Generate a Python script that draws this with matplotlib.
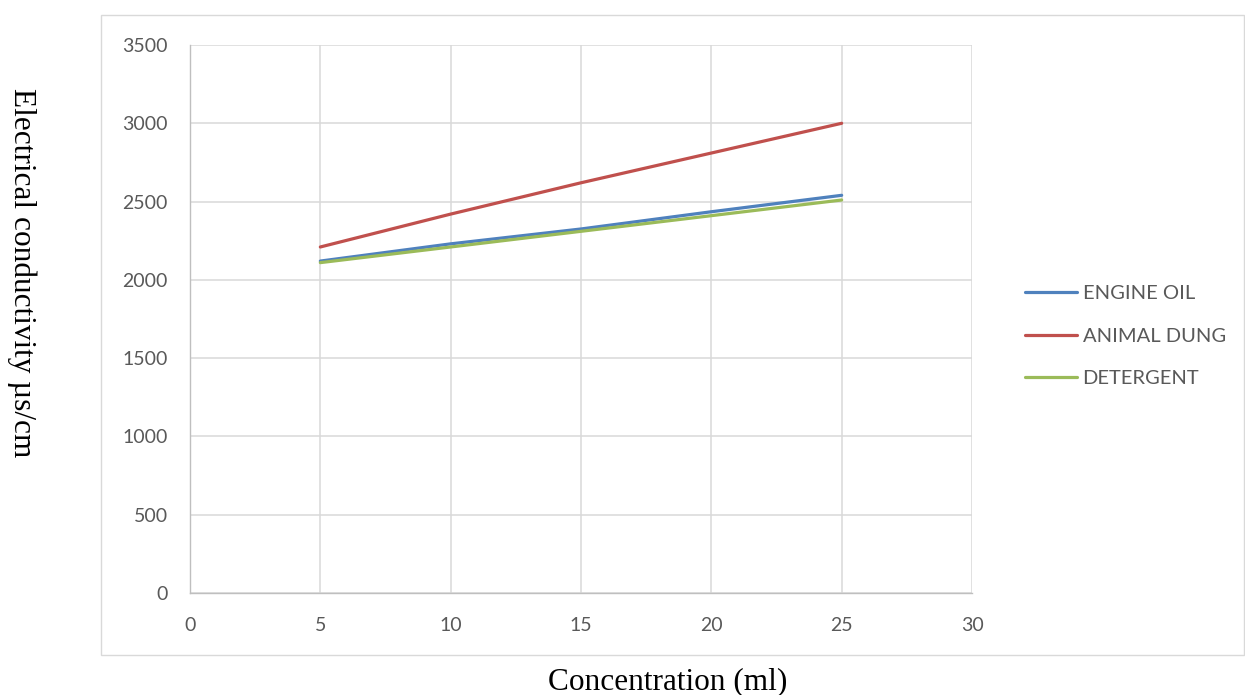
import matplotlib
matplotlib.use('Agg')
import matplotlib.pyplot as plt
from matplotlib.patches import Rectangle

# data
concentration = [5, 10, 15, 20, 25]
engine_oil = [2120, 2230, 2325, 2435, 2540]
animal_dung = [2210, 2420, 2620, 2810, 3000]
detergent = [2110, 2210, 2310, 2410, 2510]

series = [
    ('ENGINE OIL', engine_oil, '#4F81BD'),
    ('ANIMAL DUNG', animal_dung, '#C0504D'),
    ('DETERGENT', detergent, '#9BBB59'),
]

W, H = 1245, 695
fig = plt.figure(figsize=(W / 100, H / 100), dpi=100)

# chart-area border
fig.patches.append(Rectangle((101 / W, 1 - 655 / H), (1244 - 101) / W, (655 - 15) / H,
                             transform=fig.transFigure, fill=False,
                             edgecolor='#d9d9d9', linewidth=1.0))

ax = fig.add_axes([190 / W, 1 - 593 / H, (972 - 190) / W, (593 - 45) / H])

for name, vals, col in series:
    ax.plot(concentration, vals, color=col, linewidth=2.3, label=name,
            solid_capstyle='round')

ax.set_xlim(0, 30)
ax.set_ylim(0, 3500)
ax.set_xticks(range(0, 31, 5))
ax.set_yticks(range(0, 3501, 500))
ax.grid(True, color='#d9d9d9', linewidth=1.1)
ax.set_axisbelow(True)
for s in ['top', 'right']:
    ax.spines[s].set_visible(False)
for s in ['left', 'bottom']:
    ax.spines[s].set_color('#bfbfbf')
    ax.spines[s].set_linewidth(1.0)
ax.tick_params(length=0, labelsize=14, labelcolor='#595959')
ax.tick_params(axis='x', pad=17)
ax.tick_params(axis='y', pad=16)
for lab in ax.get_xticklabels() + ax.get_yticklabels():
    lab.set_fontfamily('Lato')

fig.text(22 / W, 1 - 273 / H, 'Electrical conductivity µs/cm', rotation=270,
         ha='center', va='center', fontsize=22.5, family='Liberation Serif')
fig.text(668 / W, 1 - 682 / H, 'Concentration (ml)', ha='center', va='center',
         fontsize=22.5, family='Liberation Serif')

leg = ax.legend(loc='center left', bbox_to_anchor=(1007 / W, 1 - 336 / H),
                bbox_transform=fig.transFigure, frameon=False,
                prop={'family': 'Lato', 'size': 14.5}, handlelength=2.6,
                labelspacing=1.25, handletextpad=0.25)
for t in leg.get_texts():
    t.set_color('#595959')

fig.savefig('out.png', dpi=100)
